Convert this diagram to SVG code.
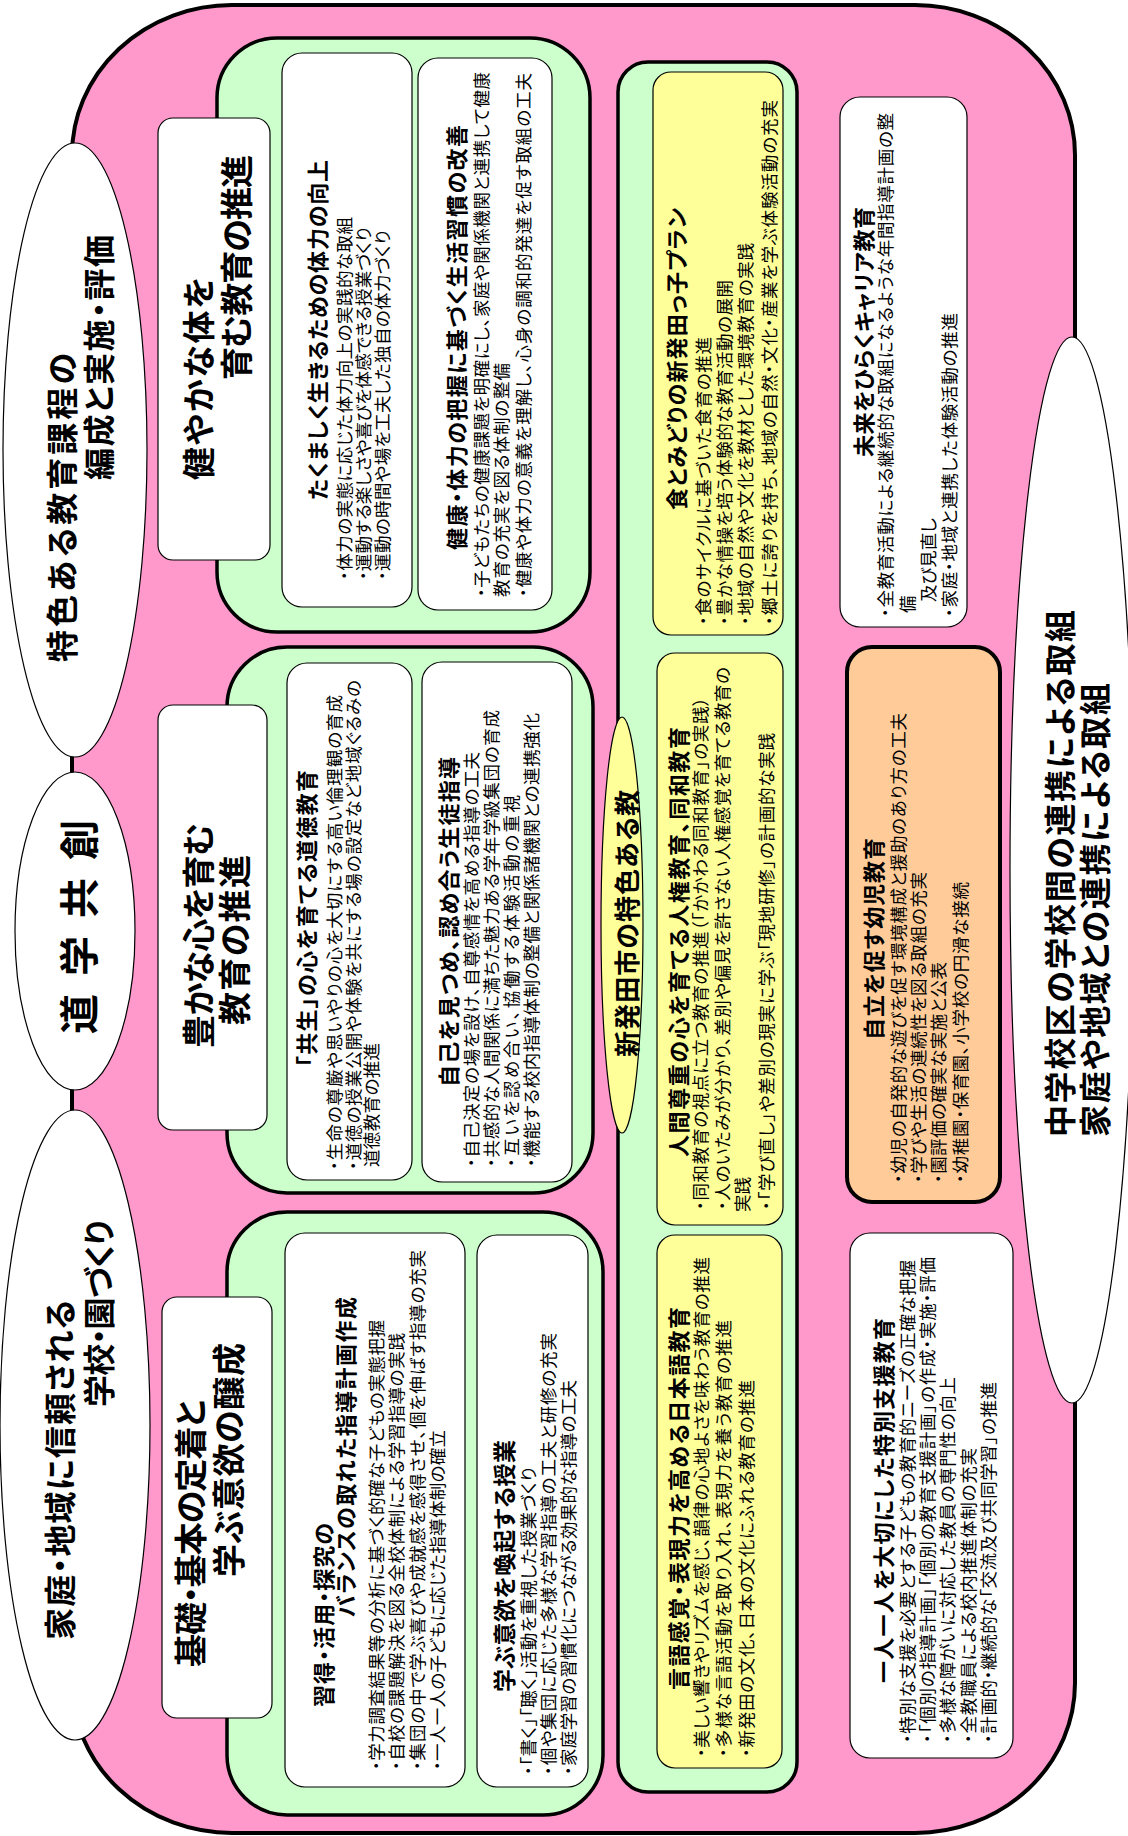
<svg xmlns="http://www.w3.org/2000/svg" width="1128" height="1836" viewBox="0 0 1128 1836">
<style>
.t{font-family:"Noto Sans CJK JP","Noto Sans",sans-serif;font-feature-settings:"palt";dominant-baseline:central;fill:#000}
.s{font-size:17.5px}
.h{font-size:22px;font-weight:700}
.L{font-size:33px;font-weight:700}
.E{font-size:32px;font-weight:700}
.pk{fill:#FF99CC;stroke:#000;stroke-width:4}
.gr{fill:#CCFFCC;stroke:#000;stroke-width:3.5}
.wb{fill:#fff;stroke:#000;stroke-width:1.2}
.yb{fill:#FFFF99;stroke:#000;stroke-width:1.2}
.ob{fill:#FFCC99;stroke:#000;stroke-width:4}
.el{fill:#fff;stroke:#000;stroke-width:1.2}
</style>
<rect width="1128" height="1836" fill="#fff"/>
<g transform="translate(0,1836) rotate(-90)">
<g id="frame"><rect class="pk" x="3" y="72" width="1828" height="1003" rx="150" ry="160"/></g>

<g id="goal-tokushoku"><ellipse class="el" cx="1386" cy="75" rx="307" ry="72"/>
<text class="t E" x="1174" y="60" textLength="309">特色ある教育課程の</text>
<text class="t E" x="1356" y="97" textLength="245">編成と実施・評価</text></g>

<g id="goal-dogaku"><ellipse class="el" cx="905" cy="75" rx="159" ry="60"/>
<text class="t" style="font-size:40px;font-weight:700" text-anchor="middle" y="77"><tspan x="822">道</tspan><tspan x="880">学</tspan><tspan x="938">共</tspan><tspan x="996">創</tspan></text></g>

<g id="goal-katei"><ellipse class="el" cx="411" cy="75" rx="315" ry="75"/>
<text class="t E" x="196" y="58" textLength="340">家庭・地域に信頼される</text>
<text class="t E" x="429" y="97" textLength="187">学校・園づくり</text></g>

<g id="green-karada"><rect class="gr" x="1204" y="217" width="594" height="373" rx="60"/></g>
<g id="green-kokoro"><rect class="gr" x="643" y="227" width="546" height="366" rx="60"/></g>
<g id="green-kiso"><rect class="gr" x="21" y="227" width="603" height="376" rx="60"/></g>

<g id="label-karada"><rect class="wb" x="1276" y="158" width="442" height="112" rx="15"/>
<text class="t L" x="1356" y="197" textLength="203">健やかな体を</text>
<text class="t L" x="1456" y="235" textLength="225">育む教育の推進</text></g>

<g id="label-kokoro"><rect class="wb" x="706" y="158" width="425" height="109" rx="15"/>
<text class="t L" x="788" y="197" textLength="225">豊かな心を育む</text>
<text class="t L" x="811" y="233" textLength="170">教育の推進</text></g>

<g id="label-kiso"><rect class="wb" x="118" y="162" width="421" height="110" rx="15"/>
<text class="t L" x="169" y="189" textLength="267">基礎・基本の定着と</text>
<text class="t L" x="259" y="227" textLength="234">学ぶ意欲の醸成</text></g>

<g id="box-tairyoku"><rect class="wb" x="1229" y="282" width="554" height="130" rx="20"/>
<text class="t h" x="1336" y="316" textLength="340">たくましく生きるための体力の向上</text>
<text class="t s" x="1256" y="343" textLength="363">・体力の実態に応じた体力向上の実践的な取組</text>
<text class="t s" x="1256" y="362" textLength="353">・運動する楽しさや喜びを体感できる授業づくり</text>
<text class="t s" x="1256" y="381" textLength="350">・運動の時間や場を工夫した独自の体力づくり</text></g>

<g id="box-kenko"><rect class="wb" x="1226" y="418" width="552" height="134" rx="20"/>
<text class="t h" x="1286" y="455" textLength="425">健康・体力の把握に基づく生活習慣の改善</text>
<text class="t s" x="1239" y="480" textLength="525">・子どもたちの健康課題を明確にし、家庭や関係機関と連携して健康</text>
<text class="t s" x="1239" y="500" textLength="234">教育の充実を図る体制の整備</text>
<text class="t s" x="1239" y="522" textLength="524">・健康や体力の意義を理解し、心身の調和的発達を促す取組の工夫</text></g>

<g id="box-kyosei"><rect class="wb" x="656" y="287" width="517" height="125" rx="20"/>
<text class="t h" x="769" y="305" textLength="297">「共生」の心を育てる道徳教育</text>
<text class="t s" x="666" y="333" textLength="475">・生命の尊厳や思いやりの心を大切にする高い倫理観の育成</text>
<text class="t s" x="666" y="352" textLength="490">・道徳の授業公開や体験を共にする場の設定など地域ぐるみの</text>
<text class="t s" x="669" y="370" textLength="124">道徳教育の推進</text></g>

<g id="box-seito"><rect class="wb" x="654" y="422" width="520" height="150" rx="20"/>
<text class="t h" x="749" y="447" textLength="330">自己を見つめ、認め合う生徒指導</text>
<text class="t s" x="669" y="470" textLength="415">・自己決定の場を設け、自尊感情を高める指導の工夫</text>
<text class="t s" x="669" y="490" textLength="457">・共感的な人間関係に満ちた魅力ある学年学級集団の育成</text>
<text class="t s" x="669" y="510" textLength="372">・互いを認め合い、協働する体験活動の重視</text>
<text class="t s" x="669" y="530" textLength="454">・機能する校内指導体制の整備と関係諸機関との連携強化</text></g>

<g id="box-shutoku"><rect class="wb" x="49" y="285" width="554" height="180" rx="20"/>
<text class="t h" x="129" y="322" textLength="184">習得・活用・探究の</text>
<text class="t h" x="219" y="344" textLength="320">バランスの取れた指導計画作成</text>
<text class="t s" x="66" y="375" textLength="450">・学力調査結果等の分析に基づく的確な子どもの実態把握</text>
<text class="t s" x="66" y="395" textLength="437">・自校の課題解決を図る全校体制による学習指導の実践</text>
<text class="t s" x="66" y="416" textLength="520">・集団の中で学ぶ喜びや成就感を感得させ、個を伸ばす指導の充実</text>
<text class="t s" x="66" y="436" textLength="340">・一人一人の子どもに応じた指導体制の確立</text></g>

<g id="box-iyoku"><rect class="wb" x="49" y="477" width="552" height="111" rx="20"/>
<text class="t h" x="144" y="503" style="font-size:23px" textLength="252">学ぶ意欲を喚起する授業</text>
<text class="t s" x="61" y="527" textLength="308">・「書く」「聴く」活動を重視した授業づくり</text>
<text class="t s" x="61" y="547" textLength="442">・個や集団に応じた多様な学習指導の工夫と研修の充実</text>
<text class="t s" x="61" y="567" textLength="395">・家庭学習の習慣化につながる効果的な指導の工夫</text></g>

<g id="green-shibata"><rect class="gr" x="44" y="618" width="1730" height="179" rx="30"/></g>

<g id="label-shibata"><ellipse cx="911" cy="622" rx="208" ry="21" fill="#FFFF99" stroke="#000" stroke-width="1.2"/>
<text class="t" style="font-size:26px;font-weight:700" x="779" y="625" textLength="267">新発田市の特色ある教</text></g>

<g id="box-shoku"><rect class="yb" x="1201" y="653" width="563" height="130" rx="18"/>
<text class="t h" x="1326" y="675" textLength="302">食とみどりの新発田っ子プラン</text>
<text class="t s" x="1211" y="702" textLength="288">・食のサイクルに基づいた食育の推進</text>
<text class="t s" x="1211" y="723" textLength="345">・豊かな情操を培う体験的な教育活動の展開</text>
<text class="t s" x="1211" y="744" textLength="382">・地域の自然や文化を教材とした環境教育の実践</text>
<text class="t s" x="1211" y="768" textLength="525">・郷土に誇りを持ち、地域の自然・文化・産業を学ぶ体験活動の充実</text></g>

<g id="box-jinken"><rect class="yb" x="611" y="657" width="572" height="126" rx="18"/>
<text class="t h" x="679" y="677" textLength="430">人間尊重の心を育てる人権教育、同和教育</text>
<text class="t s" x="626" y="699" textLength="513">・同和教育の視点に立つ教育の推進（「かかわる同和教育」の実践）</text>
<text class="t s" x="626" y="721" textLength="543">・人のいたみが分かり、差別や偏見を許さない人権感覚を育てる教育の</text>
<text class="t s" x="624" y="741">実践</text>
<text class="t s" x="626" y="765" textLength="477">・「学び直し」や差別の現実に学ぶ「現地研修」の計画的な実践</text></g>

<g id="box-gengo"><rect class="yb" x="68" y="657" width="533" height="125" rx="18"/>
<text class="t h" x="146" y="677" textLength="383">言語感覚・表現力を高める日本語教育</text>
<text class="t s" x="79" y="700" textLength="500">・美しい響きやリズムを感じ、韻律の心地よさを味わう教育の推進</text>
<text class="t s" x="79" y="722" textLength="437">・多様な言語活動を取り入れ、表現力を養う教育の推進</text>
<text class="t s" x="79" y="745" textLength="377">・新発田の文化、日本の文化にふれる教育の推進</text></g>

<g id="box-career"><rect class="wb" x="1209" y="840" width="530" height="127" rx="20"/>
<text class="t h" x="1379" y="862" textLength="250">未来をひらくキャリア教育</text>
<text class="t s" x="1219" y="884" textLength="504">・全教育活動による継続的な取組になるような年間指導計画の整</text>
<text class="t s" x="1223" y="906">備</text>
<text class="t s" x="1234" y="927" textLength="84">及び見直し</text>
<text class="t s" x="1219" y="948" textLength="304">・家庭・地域と連携した体験活動の推進</text></g>

<g id="box-yoji"><rect class="ob" x="634" y="847" width="555" height="153" rx="25"/>
<text class="t h" x="796" y="872" textLength="202">自立を促す幼児教育</text>
<text class="t s" x="653" y="897" textLength="470">・幼児の自発的な遊びを促す環境構成と援助のあり方の工夫</text>
<text class="t s" x="653" y="917" textLength="311">・学びや生活の連続性を図る取組の充実</text>
<text class="t s" x="653" y="937" textLength="221">・園評価の確実な実施と公表</text>
<text class="t s" x="653" y="959" textLength="301">・幼稚園・保育園、小学校の円滑な接続</text></g>

<g id="box-tokushi"><rect class="wb" x="78" y="850" width="525" height="163" rx="20"/>
<text class="t h" x="153" y="882" textLength="365">一人一人を大切にした特別支援教育</text>
<text class="t s" x="93" y="906" textLength="483">・特別な支援を必要とする子どもの教育的ニーズの正確な把握</text>
<text class="t s" x="93" y="926" textLength="486">・「個別の指導計画」「個別の教育支援計画」の作成・実施・評価</text>
<text class="t s" x="93" y="946" textLength="366">・多様な障がいに対応した教員の専門性の向上</text>
<text class="t s" x="93" y="967" textLength="295">・全教職員による校内推進体制の充実</text>
<text class="t s" x="93" y="987" textLength="361">・計画的・継続的な「交流及び共同学習」の推進</text></g>

<g id="goal-renkei"><ellipse class="el" cx="966" cy="1072" rx="533" ry="62"/>
<text class="t E" x="699" y="1058" textLength="527">中学校区の学校間の連携による取組</text>
<text class="t E" x="699" y="1093" textLength="454">家庭や地域との連携による取組</text></g>

<g id="connectors"/>
</g>
</svg>
